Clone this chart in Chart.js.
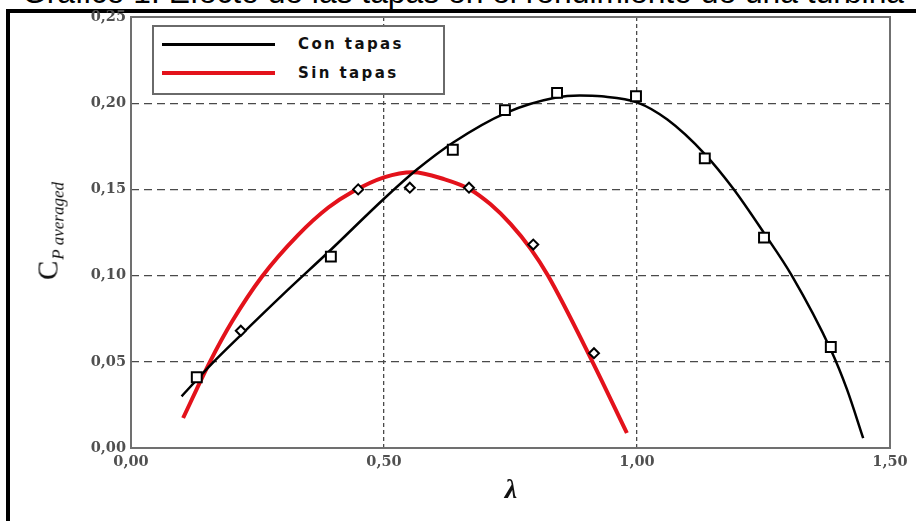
<!DOCTYPE html>
<html>
<head>
<meta charset="utf-8">
<script src="https://cdn.jsdelivr.net/npm/chart.js@4.4.1/dist/chart.umd.min.js"></script>
<style>
html,body{margin:0;padding:0;background:#fff;width:916px;height:521px;overflow:hidden;position:relative}
#frame{position:absolute;left:6px;top:9px;width:1000px;height:700px;border:4px solid #000}
#title{position:absolute;left:22px;top:-24px;font:31.8px "Liberation Sans",Arial,sans-serif;line-height:32px;white-space:nowrap;color:#000}
#wrap{position:absolute;left:0;top:0;width:916px;height:521px}
#legend{position:absolute;left:152px;top:25px;width:289px;height:66px;border:2px solid #6a6a6a;background:#fff}
.lline{position:absolute;left:8px;width:113px}
.ltext{position:absolute;left:144px;font:bold 15px "DejaVu Sans",sans-serif;letter-spacing:2.4px;color:#111;line-height:18px}
#ytitle{position:absolute;left:48px;top:231px;transform:translate(-50%,-50%) rotate(-90deg);white-space:nowrap;color:#111;font-family:"Liberation Serif",serif}
#ytitle .c{font-size:29px}
#ytitle .s{font-size:17px;font-style:italic;position:relative;top:6px;margin-left:1px}
#xtitle{position:absolute;left:511px;top:489px;transform:translate(-50%,-50%);font:italic bold 28px "Liberation Serif",serif;color:#111}
</style>
</head>
<body>
<div id="frame"></div>
<div id="title">Gráfico 1. Efecto de las tapas en el rendimiento de una turbina</div>
<div id="wrap"><canvas id="c" width="916" height="521"></canvas></div>
<div id="legend"></div>
<div id="ytitle"><span class="c">C</span><span class="s">P averaged</span></div>
<div id="xtitle">λ</div>
<script>
const seriesNames = ['Con tapas', 'Sin tapas'];
const seriesColors = ['#000000', '#e3121b'];

// fitted curves
const conFitX = [0.100, 0.160, 0.217, 0.300, 0.395, 0.500, 0.565, 0.636, 0.740, 0.840, 0.887, 0.930, 1.000, 1.060, 1.134, 1.190, 1.251, 1.306, 1.383, 1.415, 1.447];
const conFitY = [0.030, 0.049, 0.0655, 0.089, 0.1150, 0.1446, 0.1615, 0.1771, 0.1943, 0.2033, 0.2045, 0.2040, 0.2005, 0.1905, 0.1705, 0.1505, 0.1247, 0.1000, 0.0570, 0.0340, 0.0057];
const sinFitX = [0.103, 0.156, 0.200, 0.259, 0.330, 0.390, 0.437, 0.500, 0.557, 0.620, 0.670, 0.710, 0.750, 0.790, 0.824, 0.912, 0.980];
const sinFitY = [0.0174, 0.050, 0.0735, 0.0995, 0.1235, 0.1395, 0.1485, 0.1570, 0.160, 0.1558, 0.150, 0.1415, 0.130, 0.1155, 0.100, 0.050, 0.0087];

// measured points
const conPtsX = [0.130, 0.395, 0.636, 0.739, 0.842, 0.998, 1.134, 1.251, 1.383];
const conPtsY = [0.041, 0.111, 0.173, 0.196, 0.206, 0.204, 0.168, 0.122, 0.0586];
const sinPtsX = [0.217, 0.449, 0.551, 0.668, 0.795, 0.915];
const sinPtsY = [0.068, 0.150, 0.151, 0.151, 0.118, 0.055];

const xTickLabels = ['0,00', '0,50', '1,00', '1,50'];
const yTickLabels = ['0,00', '0,05', '0,10', '0,15', '0,20', '0,25'];

function pts(xs, ys) { return xs.map((x, i) => ({ x: x, y: ys[i] })); }

// legend (HTML)
const leg = document.getElementById('legend');
seriesNames.forEach((n, i) => {
  const cy = i === 0 ? 17 : 46;
  const h = i === 0 ? 3 : 4;
  const l = document.createElement('div');
  l.className = 'lline';
  l.style.top = (cy - h / 2) + 'px';
  l.style.height = h + 'px';
  l.style.background = seriesColors[i];
  leg.appendChild(l);
  const t = document.createElement('div');
  t.className = 'ltext';
  t.style.top = (cy - 9) + 'px';
  t.textContent = n;
  leg.appendChild(t);
});

const framePlugin = {
  id: 'plotFrame',
  beforeDatasetsDraw(chart) {
    const { ctx, chartArea: a } = chart;
    ctx.save();
    ctx.strokeStyle = '#707070';
    ctx.lineWidth = 2;
    ctx.setLineDash([]);
    ctx.strokeRect(a.left, a.top, a.right - a.left, a.bottom - a.top);
    ctx.restore();
  }
};

const tickFont = { family: 'DejaVu Serif', weight: 'bold', size: 14.5 };

new Chart(document.getElementById('c'), {
  type: 'scatter',
  data: {
    datasets: [
      { label: seriesNames[0] + ' (medidos)', data: pts(conPtsX, conPtsY), pointStyle: 'rect', pointRadius: 7, pointBorderWidth: 2, borderColor: '#000', backgroundColor: '#fff', order: 0 },
      { label: seriesNames[1] + ' (medidos)', data: pts(sinPtsX, sinPtsY), pointStyle: 'rectRot', pointRadius: 5, pointBorderWidth: 2, borderColor: '#000', backgroundColor: '#fff', order: 0 },
      { label: seriesNames[0], data: pts(conFitX, conFitY), showLine: true, borderColor: seriesColors[0], borderWidth: 2.5, pointRadius: 0, cubicInterpolationMode: 'monotone', order: 1 },
      { label: seriesNames[1], data: pts(sinFitX, sinFitY), showLine: true, borderColor: seriesColors[1], borderWidth: 4, pointRadius: 0, cubicInterpolationMode: 'monotone', order: 2 }
    ]
  },
  options: {
    responsive: false,
    animation: false,
    devicePixelRatio: 1,
    layout: { padding: { left: 0, top: 17, right: 26, bottom: 0 } },
    plugins: { legend: { display: false }, tooltip: { enabled: false } },
    scales: {
      x: {
        type: 'linear', min: 0, max: 1.5,
        afterFit(s) { s.height = 73; },
        ticks: { stepSize: 0.5, padding: 6, color: '#505050', font: tickFont, callback: (v, i) => xTickLabels[i] },
        grid: { drawTicks: false, lineWidth: 1.3, color: c => (c.index === 0 || c.index === xTickLabels.length - 1) ? 'transparent' : '#4a4a4a' },
        border: { display: false, dash: [4, 3] }
      },
      y: {
        type: 'linear', min: 0, max: 0.25,
        afterFit(s) { s.width = 131; },
        ticks: { stepSize: 0.05, padding: 5, color: '#505050', font: tickFont, callback: (v, i) => yTickLabels[i] },
        grid: { drawTicks: false, lineWidth: 1.3, color: c => (c.index === 0 || c.index === yTickLabels.length - 1) ? 'transparent' : '#4a4a4a' },
        border: { display: false, dash: [8, 5] }
      }
    }
  },
  plugins: [framePlugin]
});
</script>
</body>
</html>
